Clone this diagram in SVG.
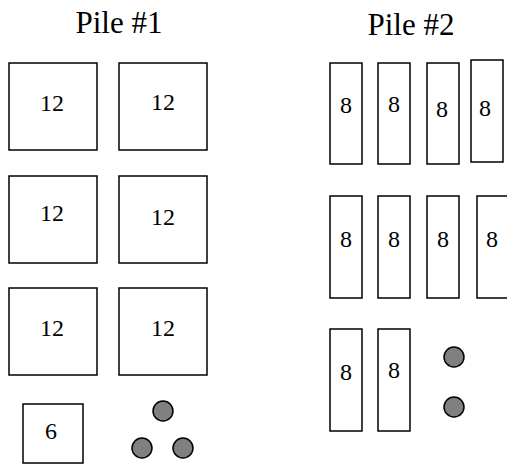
<svg xmlns="http://www.w3.org/2000/svg" width="507" height="466" viewBox="0 0 507 466">
<style>
.b{fill:#fff;stroke:#000;stroke-width:1.5}
.c{fill:#808080;stroke:#000;stroke-width:1.5}
.t{font-family:"Liberation Serif","Times New Roman",serif;fill:#000;text-anchor:middle}
.n{font-size:24px}
.h{font-size:31px}
</style>
<rect width="507" height="466" fill="#fff"/>
<g id="title1"><text class="t h" x="119" y="33">Pile #1</text></g>
<g id="title2"><text class="t h" x="411" y="35">Pile #2</text></g>
<g id="p1r1a"><rect class="b" x="9" y="63" width="88" height="87"/><text class="t n" x="52" y="111">12</text></g>
<g id="p1r1b"><rect class="b" x="119" y="63" width="88" height="87"/><text class="t n" x="163" y="110">12</text></g>
<g id="p1r2a"><rect class="b" x="9" y="176" width="88" height="87"/><text class="t n" x="52" y="221">12</text></g>
<g id="p1r2b"><rect class="b" x="119" y="176" width="88" height="87"/><text class="t n" x="163" y="225">12</text></g>
<g id="p1r3a"><rect class="b" x="9" y="288" width="88" height="87"/><text class="t n" x="52" y="336">12</text></g>
<g id="p1r3b"><rect class="b" x="119" y="288" width="88" height="87"/><text class="t n" x="163" y="336">12</text></g>
<g id="p1six"><rect class="b" x="23" y="404" width="60" height="59"/><text class="t n" x="51" y="439">6</text></g>
<g id="p1c1"><circle class="c" cx="163" cy="411" r="10"/></g>
<g id="p1c2"><circle class="c" cx="142" cy="448" r="10"/></g>
<g id="p1c3"><circle class="c" cx="183" cy="448" r="10"/></g>
<g id="p2r1a"><rect class="b" x="330" y="63" width="32" height="101"/><text class="t n" x="346" y="113">8</text></g>
<g id="p2r1b"><rect class="b" x="378" y="63" width="32" height="101"/><text class="t n" x="394" y="112">8</text></g>
<g id="p2r1c"><rect class="b" x="427" y="63" width="32" height="101"/><text class="t n" x="442" y="117">8</text></g>
<g id="p2r1d"><rect class="b" x="471" y="60" width="32" height="102"/><text class="t n" x="485" y="116">8</text></g>
<g id="p2r2a"><rect class="b" x="330" y="196" width="32" height="102"/><text class="t n" x="346" y="247">8</text></g>
<g id="p2r2b"><rect class="b" x="378" y="196" width="32" height="102"/><text class="t n" x="394" y="247">8</text></g>
<g id="p2r2c"><rect class="b" x="427" y="196" width="32" height="102"/><text class="t n" x="443" y="247">8</text></g>
<g id="p2r2d"><rect class="b" x="477" y="196" width="40" height="102"/><text class="t n" x="492" y="247">8</text></g>
<g id="p2r3a"><rect class="b" x="330" y="329" width="32" height="102"/><text class="t n" x="346" y="380">8</text></g>
<g id="p2r3b"><rect class="b" x="378" y="329" width="32" height="102"/><text class="t n" x="394" y="378">8</text></g>
<g id="p2c1"><circle class="c" cx="454" cy="357" r="10"/></g>
<g id="p2c2"><circle class="c" cx="454" cy="407" r="10"/></g>
</svg>
